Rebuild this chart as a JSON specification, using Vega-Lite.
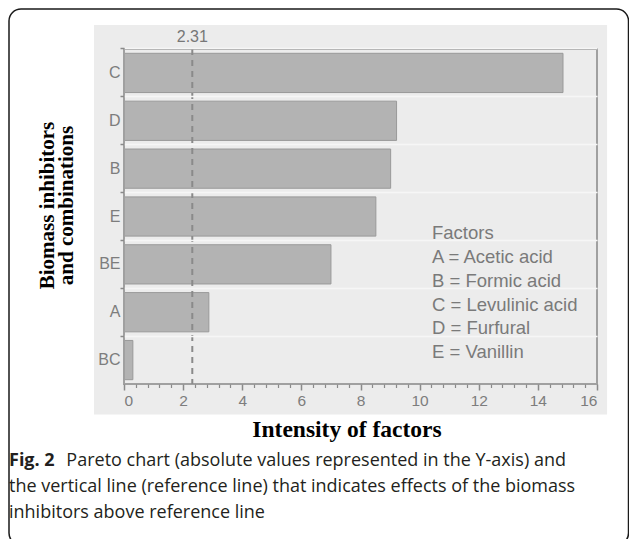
{
  "$schema": "https://vega.github.io/schema/vega-lite/v6.json",
  "width": 473,
  "height": 335,
  "autosize": {"type": "none"},
  "padding": {"left": 124, "top": 49, "right": 32, "bottom": 155},
  "background": "white",
  "config": {"view": {"stroke": null}, "font": "Liberation Sans"},
  "data": {"values": [
    {"factor": "C", "effect": 14.85},
    {"factor": "D", "effect": 9.22},
    {"factor": "B", "effect": 9.02},
    {"factor": "E", "effect": 8.52},
    {"factor": "BE", "effect": 7.0},
    {"factor": "A", "effect": 2.87},
    {"factor": "BC", "effect": 0.3}
  ]},
  "resolve": {"axis": {"x": "independent"}},
  "layer": [
    {
      "data": {"values": [{}]},
      "mark": {"type": "rect", "fill": "white", "fillOpacity": 0, "stroke": "#1a1a1a", "strokeWidth": 1.5, "cornerRadius": 12},
      "encoding": {
        "x": {"datum": -3.89, "type": "quantitative", "axis": null},
        "x2": {"datum": 17.066},
        "y": {"datum": "C", "type": "nominal", "bandPosition": -1.129},
        "y2": {"datum": "BC", "bandPosition": 5.213}
      }
    },
    {
      "data": {"values": [{}]},
      "mark": {"type": "rect", "fill": "#ececec"},
      "encoding": {
        "x": {"datum": -1.015, "type": "quantitative", "axis": null},
        "x2": {"datum": 16.34},
        "y": {"datum": "C", "type": "nominal", "bandPosition": -0.7215},
        "y2": {"datum": "BC", "bandPosition": 1.887}
      }
    },
    {
      "mark": {"type": "bar", "fill": "#b3b3b3", "stroke": "#999999", "strokeWidth": 1},
      "encoding": {
        "y": {
          "field": "factor",
          "type": "nominal",
          "sort": ["C", "D", "B", "E", "BE", "A", "BC"],
          "scale": {"paddingInner": 0.18, "paddingOuter": 0.09},
          "axis": {
            "title": ["Biomass inhibitors", "and combinations"],
            "titleFont": "Liberation Serif",
            "titleFontWeight": "bold",
            "titleFontSize": 21,
            "titleColor": "#000000",
            "titleLineHeight": 19,
            "titleAngle": -90,
            "titleAlign": "center",
            "titleBaseline": "alphabetic",
            "titleX": -71,
            "titleY": 156,
            "domain": false,
            "ticks": true,
            "tickSize": 4,
            "tickColor": "#8a8a8a",
            "tickWidth": 1.5,
            "bandPosition": -0.1098,
            "grid": true,
            "gridColor": "#f6f6f6",
            "gridWidth": 1.5,
            "labelFont": "Liberation Sans",
            "labelFontSize": 16,
            "labelColor": "#7d7d7d",
            "labelPadding": 0,
            "zindex": 1
          }
        },
        "x": {
          "field": "effect",
          "type": "quantitative",
          "scale": {"domain": [0, 16], "nice": false, "zero": false},
          "axis": {
            "title": "Intensity of factors",
            "titleFont": "Liberation Serif",
            "titleFontWeight": "bold",
            "titleFontSize": 23.5,
            "titleColor": "#000000",
            "titleX": 222.5,
            "titleY": 52.5,
            "titleAlign": "center",
            "titleBaseline": "alphabetic",
            "values": [0, 2, 4, 6, 8, 10, 12, 14, 16],
            "domain": false,
            "grid": false,
            "tickSize": 6,
            "tickColor": "#8a8a8a",
            "tickWidth": 1.5,
            "labelFont": "Liberation Sans",
            "labelFontSize": 15.5,
            "labelColor": "#7d7d7d",
            "labelPadding": 3,
            "zindex": 1
          }
        }
      }
    },
    {
      "data": {"values": [{}]},
      "mark": {"type": "rect", "fill": "white", "fillOpacity": 0, "stroke": "#a0a0a0", "strokeWidth": 2},
      "encoding": {
        "x": {
          "datum": 0,
          "type": "quantitative",
          "axis": {
            "orient": "bottom",
            "values": [0.4, 0.8, 1.2, 1.6, 2.4, 2.8, 3.2, 3.6, 4.4, 4.8, 5.2, 5.6, 6.4, 6.8, 7.2, 7.6, 8.4, 8.8, 9.2, 9.6, 10.4, 10.8, 11.2, 11.6, 12.4, 12.8, 13.2, 13.6, 14.4, 14.8, 15.2, 15.6],
            "labels": false,
            "domain": false,
            "grid": false,
            "title": null,
            "tickSize": 3.5,
            "tickColor": "#8a8a8a",
            "tickWidth": 1.2,
            "zindex": 1
          }
        },
        "x2": {"datum": 16},
        "y": {"datum": "C", "type": "nominal", "bandPosition": -0.1098},
        "y2": {"datum": "BC", "bandPosition": 1.1098}
      }
    },
    {
      "data": {"values": [{}]},
      "mark": {"type": "rule", "stroke": "#8a8a8a", "strokeWidth": 2, "strokeDash": [6, 5]},
      "encoding": {
        "x": {"datum": 2.31, "type": "quantitative", "axis": null}
      }
    },
    {
      "data": {"values": [{}]},
      "mark": {"type": "text", "font": "Liberation Sans", "fontSize": 16, "color": "#777777", "align": "center", "baseline": "middle"},
      "encoding": {
        "x": {"datum": 2.31, "type": "quantitative", "axis": null},
        "y": {"datum": "C", "type": "nominal", "bandPosition": -0.4157},
        "text": {"value": "2.31"}
      }
    },
    {
      "data": {"values": [{}]},
      "mark": {"type": "text", "font": "Liberation Sans", "fontSize": 18.5, "color": "#7a7a7a", "align": "left", "baseline": "alphabetic", "lineHeight": 23.7},
      "encoding": {
        "x": {"datum": 10.419, "type": "quantitative", "axis": null},
        "y": {"datum": "E", "type": "nominal", "bandPosition": 1.086},
        "text": {"value": ["Factors", "A = Acetic acid", "B = Formic acid", "C = Levulinic acid", "D = Furfural", "E = Vanillin"]}
      }
    },
    {
      "data": {"values": [{}]},
      "mark": {"type": "text", "font": "Open Sans", "fontSize": 18, "fontWeight": "bold", "color": "#231f20", "align": "left", "baseline": "alphabetic"},
      "encoding": {
        "x": {"datum": -3.89, "type": "quantitative", "axis": null},
        "y": {"datum": "BC", "type": "nominal", "bandPosition": 3.1995},
        "text": {"value": "Fig. 2"}
      }
    },
    {
      "data": {"values": [{}]},
      "mark": {"type": "text", "font": "Open Sans", "fontSize": 18, "color": "#231f20", "align": "left", "baseline": "alphabetic"},
      "encoding": {
        "x": {"datum": -1.95, "type": "quantitative", "axis": null},
        "y": {"datum": "BC", "type": "nominal", "bandPosition": 3.1995},
        "text": {"value": "Pareto chart (absolute values represented in the Y-axis) and"}
      }
    },
    {
      "data": {"values": [{}]},
      "mark": {"type": "text", "font": "Open Sans", "fontSize": 18, "color": "#231f20", "align": "left", "baseline": "alphabetic", "lineHeight": 26},
      "encoding": {
        "x": {"datum": -3.89, "type": "quantitative", "axis": null},
        "y": {"datum": "BC", "type": "nominal", "bandPosition": 3.862},
        "text": {"value": ["the vertical line (reference line) that indicates effects of the biomass", "inhibitors above reference line"]}
      }
    }
  ]
}
